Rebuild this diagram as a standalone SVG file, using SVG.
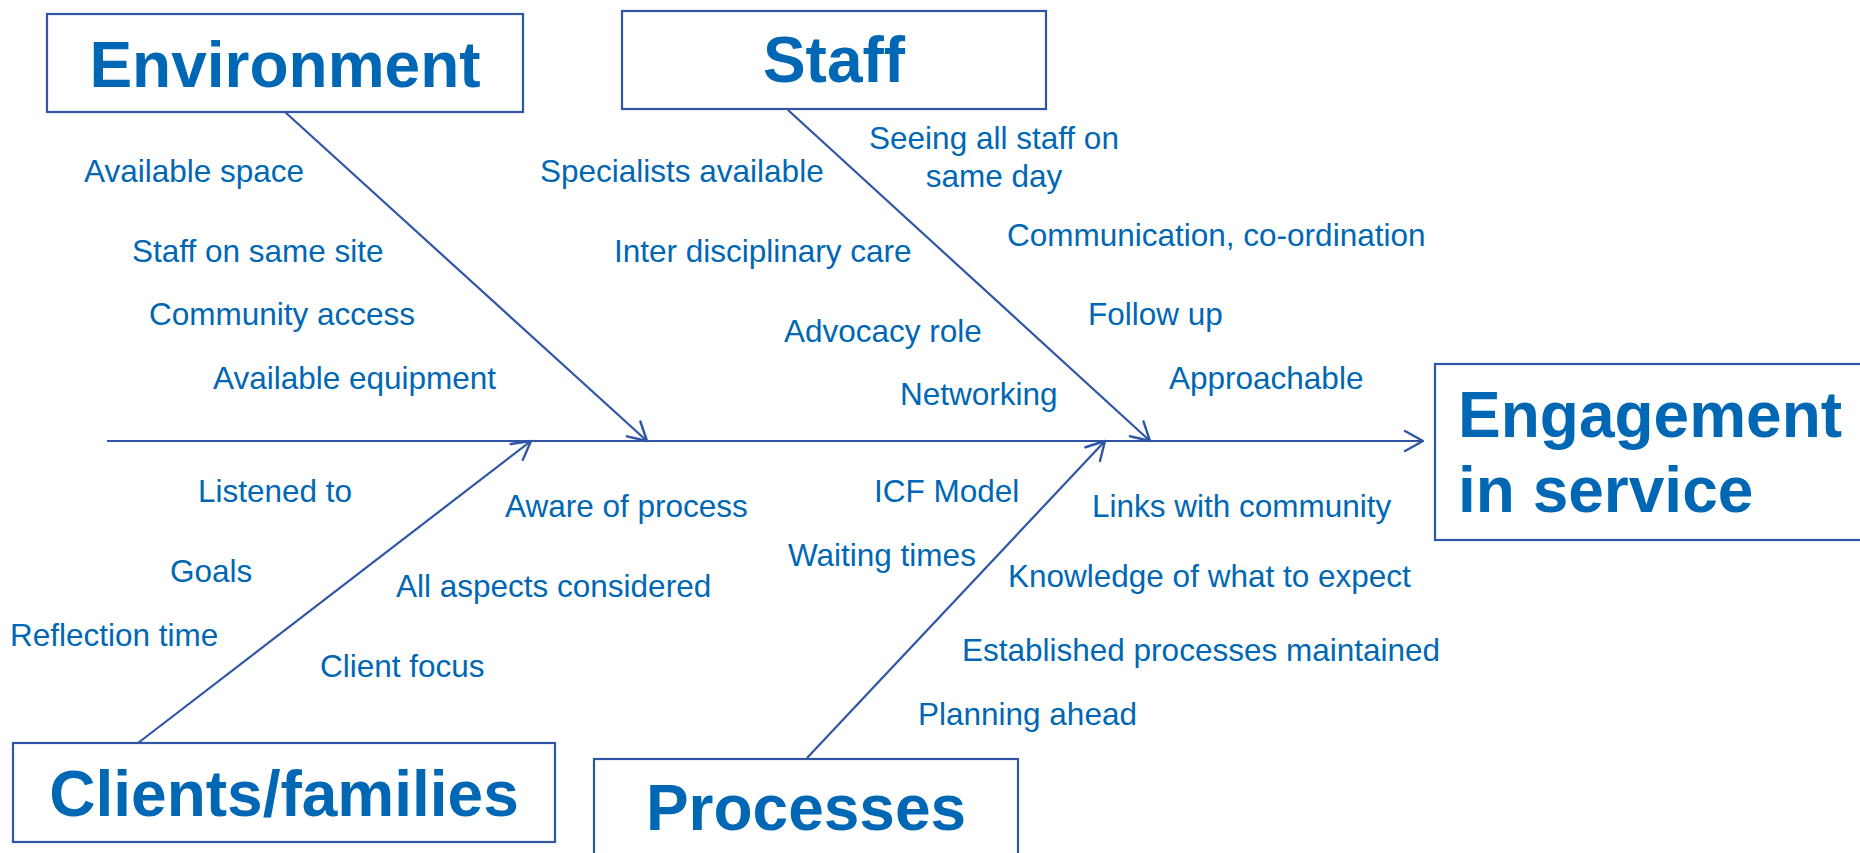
<svg xmlns="http://www.w3.org/2000/svg" width="1860" height="853" viewBox="0 0 1860 853">
<style>
.box{fill:#fff;stroke:#2F55A4;stroke-width:2.2}
.title{font-family:"Liberation Sans",Arial,sans-serif;font-weight:bold;font-size:64px;fill:#0067B4}
.lbl{font-family:"Liberation Sans",Arial,sans-serif;font-size:31.5px;fill:#0067B4}
.ln{stroke:#2F55A4;stroke-width:2.2;fill:none}
</style>
<defs>
<marker id="arr" markerUnits="userSpaceOnUse" markerWidth="30" markerHeight="30" viewBox="-22 -15 30 30" refX="0" refY="0" orient="auto">
<path d="M-18,-10 L0,0 L-18,10" fill="none" stroke="#2F55A4" stroke-width="2.4" stroke-linecap="round" stroke-linejoin="round"/>
</marker>
</defs>
<rect width="1860" height="853" fill="#fff"/>
<g id="connectors">
<line class="ln" x1="107" y1="441" x2="1423" y2="441" marker-end="url(#arr)"/>
<line class="ln" x1="285" y1="112" x2="647" y2="441" marker-end="url(#arr)"/>
<line class="ln" x1="788" y1="110" x2="1150" y2="441" marker-end="url(#arr)"/>
<line class="ln" x1="138" y1="743" x2="531" y2="441" marker-end="url(#arr)"/>
<line class="ln" x1="807" y1="758" x2="1105" y2="441" marker-end="url(#arr)"/>
</g>
<g id="environment">
<rect class="box" x="47" y="14" width="476" height="98"/>
<text class="title" x="285" y="87" text-anchor="middle">Environment</text>
</g>
<g id="staff">
<rect class="box" x="622" y="11" width="424" height="98"/>
<text class="title" x="834" y="82" text-anchor="middle">Staff</text>
</g>
<g id="clients">
<rect class="box" x="13" y="743" width="542" height="99"/>
<text class="title" x="284" y="816" text-anchor="middle">Clients/families</text>
</g>
<g id="processes">
<rect class="box" x="594" y="759" width="424" height="120"/>
<text class="title" x="806" y="830" text-anchor="middle">Processes</text>
</g>
<g id="engagement">
<rect class="box" x="1435" y="364" width="500" height="176"/>
<text class="title" x="1458" y="437">Engagement</text>
<text class="title" x="1458" y="512">in service</text>
</g>
<g id="environment-causes">
<text class="lbl" x="84" y="182">Available space</text>
<text class="lbl" x="132" y="262">Staff on same site</text>
<text class="lbl" x="149" y="325">Community access</text>
<text class="lbl" x="213" y="389">Available equipment</text>
</g>
<g id="staff-causes">
<text class="lbl" x="540" y="182">Specialists available</text>
<text class="lbl" x="614" y="262">Inter disciplinary care</text>
<text class="lbl" x="784" y="342">Advocacy role</text>
<text class="lbl" x="900" y="405">Networking</text>
<text class="lbl" x="994" y="149" text-anchor="middle">Seeing all staff on</text>
<text class="lbl" x="994" y="187" text-anchor="middle">same day</text>
<text class="lbl" x="1007" y="246">Communication, co-ordination</text>
<text class="lbl" x="1088" y="325">Follow up</text>
<text class="lbl" x="1169" y="389">Approachable</text>
</g>
<g id="clients-causes">
<text class="lbl" x="198" y="502">Listened to</text>
<text class="lbl" x="170" y="582">Goals</text>
<text class="lbl" x="10" y="646">Reflection time</text>
<text class="lbl" x="320" y="677">Client focus</text>
<text class="lbl" x="505" y="517">Aware of process</text>
<text class="lbl" x="396" y="597">All aspects considered</text>
</g>
<g id="processes-causes">
<text class="lbl" x="874" y="502">ICF Model</text>
<text class="lbl" x="788" y="566">Waiting times</text>
<text class="lbl" x="1092" y="517">Links with community</text>
<text class="lbl" x="1008" y="587">Knowledge of what to expect</text>
<text class="lbl" x="962" y="661">Established processes maintained</text>
<text class="lbl" x="918" y="725">Planning ahead</text>
</g>
</svg>
